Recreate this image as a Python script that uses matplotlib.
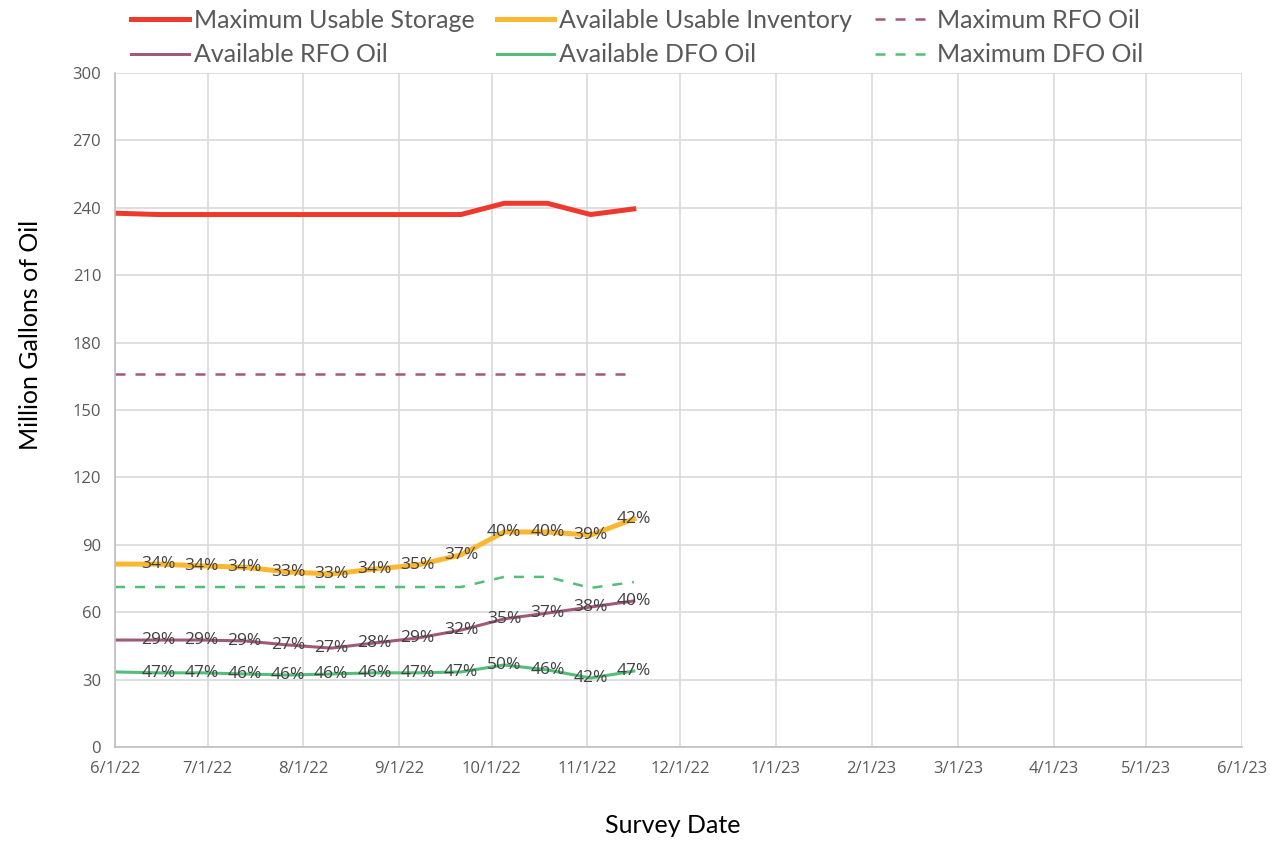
#!/usr/bin/env python3
"""Fuel oil storage survey: capacities and available inventory over time."""

from datetime import date

import matplotlib
matplotlib.use("Agg")
import matplotlib.dates as mdates
import matplotlib.pyplot as plt

# Survey dates (biweekly)
SURVEY_DATES = [
    date(2022, 6, 1), date(2022, 6, 15), date(2022, 6, 29), date(2022, 7, 13),
    date(2022, 7, 27), date(2022, 8, 10), date(2022, 8, 24), date(2022, 9, 7),
    date(2022, 9, 21), date(2022, 10, 5), date(2022, 10, 19), date(2022, 11, 2),
    date(2022, 11, 16),
]

MAX_USABLE = [237.6, 237.0, 237.0, 237.0, 237.0, 237.0, 237.0, 237.0,
              237.0, 242.0, 242.0, 237.0, 239.5]
AVAIL_USABLE = [81.4, 81.4, 80.6, 80.0, 77.9, 77.0, 79.2, 81.0,
                85.5, 95.7, 95.7, 94.3, 101.5]
MAX_RFO = [166.0] * 13
MAX_DFO = [71.2, 71.2, 71.2, 71.2, 71.2, 71.2, 71.2, 71.2,
           71.2, 75.7, 75.7, 70.8, 73.4]
AVAIL_RFO = [47.6, 47.6, 47.6, 47.2, 45.4, 44.0, 46.3, 48.5,
             52.0, 57.0, 59.6, 62.3, 65.0]
AVAIL_DFO = [33.4, 33.0, 33.0, 32.5, 32.0, 32.5, 33.0, 33.0,
             33.4, 36.5, 34.3, 30.7, 33.8]

# Data labels (percent full); first survey has no label
USABLE_PCT = ["", "34%", "34%", "34%", "33%", "33%", "34%", "35%",
              "37%", "40%", "40%", "39%", "42%"]
RFO_PCT = ["", "29%", "29%", "29%", "27%", "27%", "28%", "29%",
           "32%", "35%", "37%", "38%", "40%"]
DFO_PCT = ["", "47%", "47%", "46%", "46%", "46%", "46%", "47%",
           "47%", "50%", "46%", "42%", "47%"]

RED = "#EE3A2C"
ORANGE = "#FBB730"
PURPLE = "#A05A78"
GREEN = "#52BE7A"
GRID = "#D9D9D9"
TEXT = "#595959"

plt.rcParams["font.family"] = ["Open Sans", "DejaVu Sans"]
TITLE_FONT = ["Lato", "DejaVu Sans"]


def add_labels(ax, values, labels):
    for d, v, lab in zip(SURVEY_DATES, values, labels):
        if lab:
            ax.text(d, v, lab, ha="center", va="center", fontsize=12.5,
                    color="#404040", clip_on=True)


def plot(output):
    fig = plt.figure(figsize=(12.7, 8.41), dpi=100)
    ax = fig.add_axes([0.0906, 0.1118, 0.8874, 0.8014])

    h_max, = ax.plot(SURVEY_DATES, MAX_USABLE, color=RED, lw=3.6,
                     label="Maximum Usable Storage")
    h_avail, = ax.plot(SURVEY_DATES, AVAIL_USABLE, color=ORANGE, lw=3.6,
                       label="Available Usable Inventory")
    h_mrfo, = ax.plot(SURVEY_DATES, MAX_RFO, color=PURPLE, lw=1.8,
                      ls=(0, (4, 4)), label="Maximum RFO Oil")
    h_rfo, = ax.plot(SURVEY_DATES, AVAIL_RFO, color=PURPLE, lw=2.2,
                     label="Available RFO Oil")
    h_dfo, = ax.plot(SURVEY_DATES, AVAIL_DFO, color=GREEN, lw=2.2,
                     label="Available DFO Oil")
    h_mdfo, = ax.plot(SURVEY_DATES, MAX_DFO, color=GREEN, lw=1.8,
                      ls=(0, (4, 4)), label="Maximum DFO Oil")

    add_labels(ax, AVAIL_USABLE, USABLE_PCT)
    add_labels(ax, AVAIL_RFO, RFO_PCT)
    add_labels(ax, AVAIL_DFO, DFO_PCT)

    ax.set_xlim(date(2022, 6, 1), date(2023, 6, 1))
    ax.set_ylim(0, 300)
    ax.set_yticks(range(0, 301, 30))
    ax.xaxis.set_major_locator(mdates.MonthLocator())
    ax.xaxis.set_major_formatter(
        plt.FuncFormatter(lambda x, _: "{d.month}/{d.day}/{y}".format(
            d=mdates.num2date(x), y=mdates.num2date(x).year % 100)))

    ax.grid(True, color=GRID, lw=1.2)
    ax.set_axisbelow(True)
    for side in ("top", "right"):
        ax.spines[side].set_visible(False)
    for side in ("left", "bottom"):
        ax.spines[side].set_color("#BFBFBF")
        ax.spines[side].set_linewidth(1.2)
    ax.tick_params(length=0, colors=TEXT, labelsize=12, pad=10)

    ax.set_xlabel("Survey Date", fontsize=18, color="black",
                  family=TITLE_FONT)
    ax.xaxis.set_label_coords(0.495, -0.099)
    ax.set_ylabel("Million Gallons of Oil", fontsize=18, color="black",
                  family=TITLE_FONT)
    ax.yaxis.set_label_coords(-0.065, 0.611)

    handles = [h_max, h_rfo, h_avail, h_dfo, h_mrfo, h_mdfo]
    fig.legend(handles=handles, labels=[h.get_label() for h in handles],
               ncol=3, loc="upper left", bbox_to_anchor=(0.0855, 1.016),
               frameon=False, prop={"family": TITLE_FONT, "size": 18},
               handlelength=2.3, handletextpad=0.2, columnspacing=0.9,
               labelspacing=0.45, labelcolor=TEXT)

    fig.savefig(output, dpi=100)


if __name__ == "__main__":
    plot("out.png")
